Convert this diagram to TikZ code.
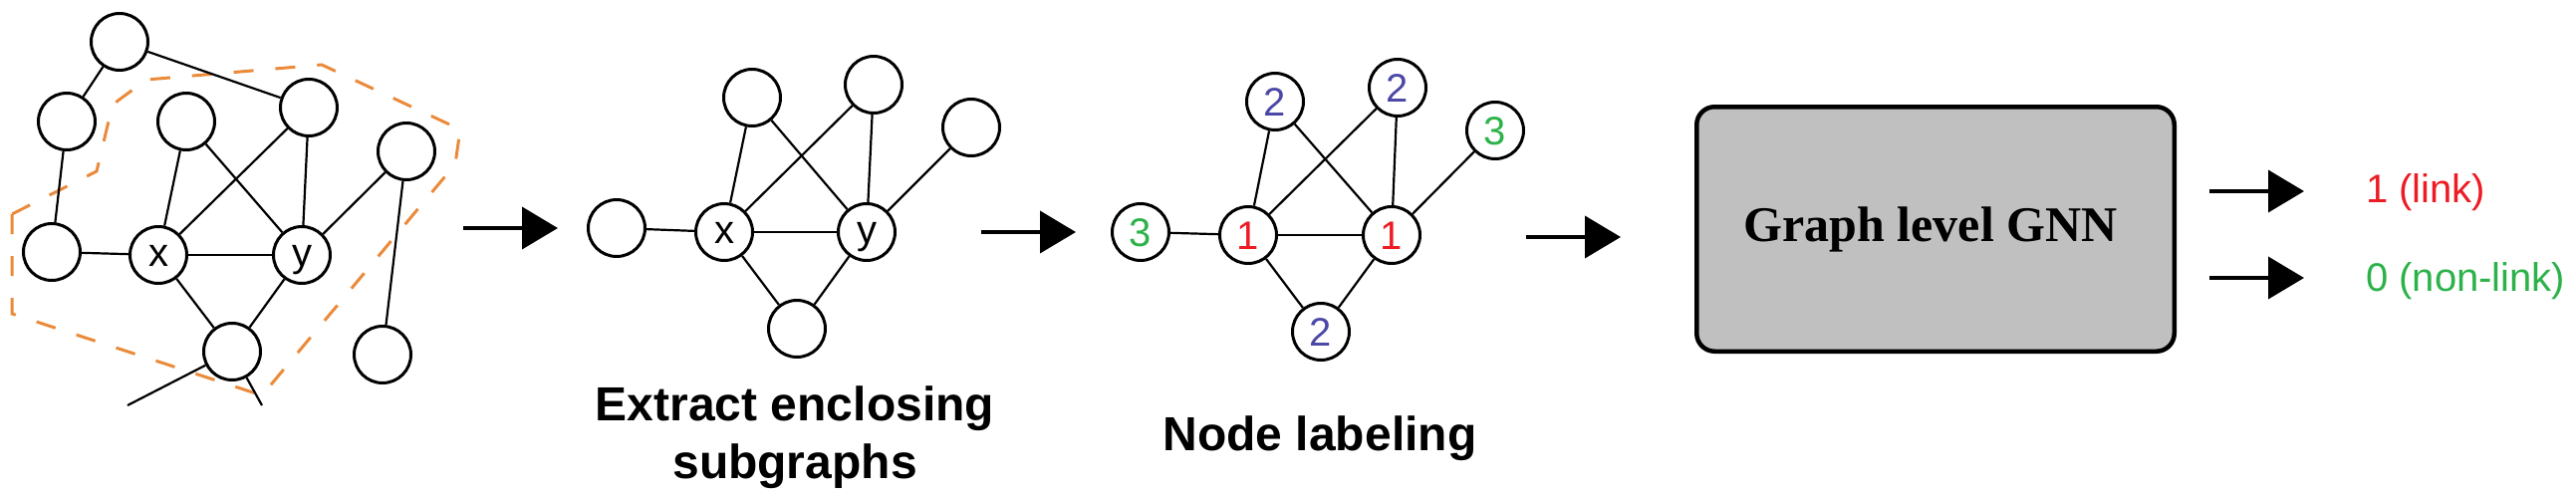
\documentclass[tikz,border=0pt]{standalone}
\usepackage{fontspec}
\setmainfont{Liberation Sans}
\newfontfamily\gnnfont{Liberation Serif}
\usetikzlibrary{arrows.meta}
\definecolor{lblred}{HTML}{ED1C24}
\definecolor{lblgreen}{HTML}{2DB24A}
\definecolor{lblblue}{HTML}{4B48A6}
\definecolor{hullorange}{HTML}{EA8A3A}
\definecolor{boxgray}{HTML}{C0C0C0}
\tikzset{
  gnode/.style={circle, draw, line width=3pt, minimum size=57pt, inner sep=0pt,
    font=\fontsize{40}{40}\selectfont, text height=22pt, text depth=0pt},
  lnode/.style={gnode, text height=28pt},
  edge/.style={line width=2.2pt},
  flow/.style={line width=4pt, -{Triangle[length=36pt,width=42pt]}},
  hull/.style={hullorange, line width=3pt, dash pattern=on 20pt off 22pt},
  steptext/.style={inner sep=0pt, font=\bfseries\fontsize{48}{48}\selectfont},
  outtext/.style={inner sep=0pt, anchor=base west, font=\fontsize{40}{40}\selectfont}
}
\begin{document}
\begin{tikzpicture}[x=1pt, y=-1pt]
\useasboundingbox (0,0) rectangle (2586,498);
% ---------- graph 1 ----------
\draw[hull] (12,215) -- (12,315) -- (263,397) -- (457,165) -- (462,130) -- (323,65)
  -- (147,80) -- (113,105) -- (97,172) -- cycle;
\node[gnode] (a1) at (120,42) {};
\node[gnode] (b1) at (67,122) {};
\node[gnode] (c1) at (187,122) {};
\node[gnode] (d1) at (310,108) {};
\node[gnode] (e1) at (408,152) {};
\node[gnode] (f1) at (52,253) {};
\node[gnode] (x1) at (159,256) {x};
\node[gnode] (y1) at (303,256) {y};
\node[gnode] (g1) at (233,353) {};
\node[gnode] (h1) at (384,356) {};
\coordinate (t1) at (128,407);
\coordinate (t2) at (263,407);
\draw[edge] (a1) -- (b1);
\draw[edge] (a1) -- (d1);
\draw[edge] (b1) -- (f1);
\draw[edge] (f1) -- (x1);
\draw[edge] (x1) -- (c1);
\draw[edge] (x1) -- (d1);
\draw[edge] (c1) -- (y1);
\draw[edge] (d1) -- (y1);
\draw[edge] (x1) -- (y1);
\draw[edge] (y1) -- (e1);
\draw[edge] (e1) -- (h1);
\draw[edge] (x1) -- (g1);
\draw[edge] (y1) -- (g1);
\draw[edge] (g1) -- (t1);
\draw[edge] (g1) -- (t2);
% ---------- arrow 1 ----------
\coordinate (ar1s) at (465,229);
\coordinate (ar1e) at (560,229);
\draw[flow] (ar1s) -- (ar1e);
% ---------- graph 2 ----------
\node[gnode] (l2) at (619,229) {};
\node[gnode] (x2) at (727,233) {x};
\node[gnode] (y2) at (870,233) {y};
\node[gnode] (p2) at (755,98) {};
\node[gnode] (q2) at (877,85) {};
\node[gnode] (r2) at (975,128) {};
\node[gnode] (b2) at (800,330) {};
\draw[edge] (l2) -- (x2);
\draw[edge] (x2) -- (y2);
\draw[edge] (x2) -- (p2);
\draw[edge] (x2) -- (q2);
\draw[edge] (p2) -- (y2);
\draw[edge] (q2) -- (y2);
\draw[edge] (y2) -- (r2);
\draw[edge] (x2) -- (b2);
\draw[edge] (y2) -- (b2);
\node[steptext, anchor=base] (ext1) at (798,422) {Extract enclosing};
\node[steptext, anchor=base] (ext2) at (798,480) {subgraphs};
% ---------- arrow 2 ----------
\coordinate (ar2s) at (985,233);
\coordinate (ar2e) at (1080,233);
\draw[flow] (ar2s) -- (ar2e);
% ---------- graph 3 ----------
\node[lnode, text=lblgreen] (l3) at (1145,233) {3};
\node[lnode, text=lblred] (x3) at (1253,236) {1};
\node[lnode, text=lblred] (y3) at (1397,236) {1};
\node[lnode, text=lblblue] (p3) at (1280,102) {2};
\node[lnode, text=lblblue] (q3) at (1403,88) {2};
\node[lnode, text=lblgreen] (r3) at (1501,131) {3};
\node[lnode, text=lblblue] (b3) at (1326,333) {2};
\draw[edge] (l3) -- (x3);
\draw[edge] (x3) -- (y3);
\draw[edge] (x3) -- (p3);
\draw[edge] (x3) -- (q3);
\draw[edge] (p3) -- (y3);
\draw[edge] (q3) -- (y3);
\draw[edge] (y3) -- (r3);
\draw[edge] (x3) -- (b3);
\draw[edge] (y3) -- (b3);
\node[steptext, anchor=base] (lab) at (1325,452) {Node labeling};
% ---------- arrow 3 ----------
\coordinate (ar3s) at (1532,238);
\coordinate (ar3e) at (1627,238);
\draw[flow] (ar3s) -- (ar3e);
% ---------- GNN box ----------
\node[draw, line width=4.5pt, fill=boxgray, rounded corners=18pt,
  minimum width=479.5pt, minimum height=245.5pt, inner sep=0pt] (gnn) at (1943,230) {};
\node[inner sep=0pt, anchor=base, font=\gnnfont\bfseries\fontsize{50}{50}\selectfont]
  (gnnlabel) at (1938,242) {Graph level GNN};
% ---------- outputs ----------
\coordinate (o1s) at (2218,192);
\coordinate (o1e) at (2313,192);
\coordinate (o2s) at (2218,279);
\coordinate (o2e) at (2313,279);
\draw[flow] (o1s) -- (o1e);
\draw[flow] (o2s) -- (o2e);
\node[outtext, text=lblred] (res1) at (2375,203) {1 (link)};
\node[outtext, text=lblgreen] (res0) at (2375,292) {0 (non-link)};
\end{tikzpicture}
\end{document}
